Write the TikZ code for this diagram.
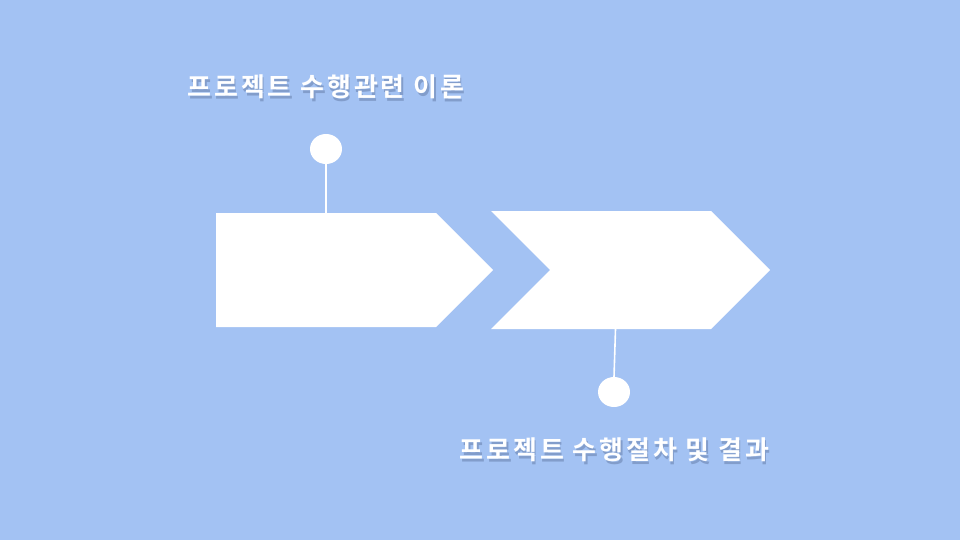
\documentclass[tikz,border=0pt]{standalone}
\usepackage{fontspec}
\usetikzlibrary{shapes.geometric}
\newfontfamily\kr{Noto Sans CJK KR}[BoldFont={* Bold},LetterSpace=11]
\definecolor{bg}{RGB}{163,194,243}
\definecolor{shade}{RGB}{70,90,130}
\begin{document}
\begin{tikzpicture}[x=1pt,y=-1pt,
  dot/.style={ellipse,fill=white,minimum width=32pt,minimum height=30pt,inner sep=0pt},
  stem/.style={draw=white,line width=1.6pt},
  lbl/.style={text=white,font=\kr\fontsize{26}{30}\selectfont\bfseries,inner sep=0pt},
  lblshadow/.style={text=shade,opacity=0.35,font=\kr\fontsize{26}{30}\selectfont\bfseries,inner sep=0pt}]
\useasboundingbox (0,0) rectangle (960,540);
\fill[bg] (0,0) rectangle (960,540);
% arrow shapes
\fill[white] (216,213) -- (436,213) -- (493,270) -- (436,327) -- (216,327) -- cycle;
\fill[white] (491,211) -- (711,211) -- (770,270) -- (711,329) -- (491,329) -- (550,270) -- cycle;
\coordinate (s1) at (326,213);
\coordinate (s2) at (615.5,329);
\node[dot] (d1) at (326,149) {};
\node[dot] (d2) at (614,392) {};
\draw[stem] (d1.south) -- (s1);
\draw[stem] (s2) -- (d2.north);
\node[lblshadow] at (327.5,89.5) {프로젝트 수행관련 이론};
\node[lbl] (t1) at (326,87) {프로젝트 수행관련 이론};
\node[lblshadow] at (616,452.5) {프로젝트 수행절차 및 결과};
\node[lbl] (t2) at (614.5,450) {프로젝트 수행절차 및 결과};
\end{tikzpicture}
\end{document}
